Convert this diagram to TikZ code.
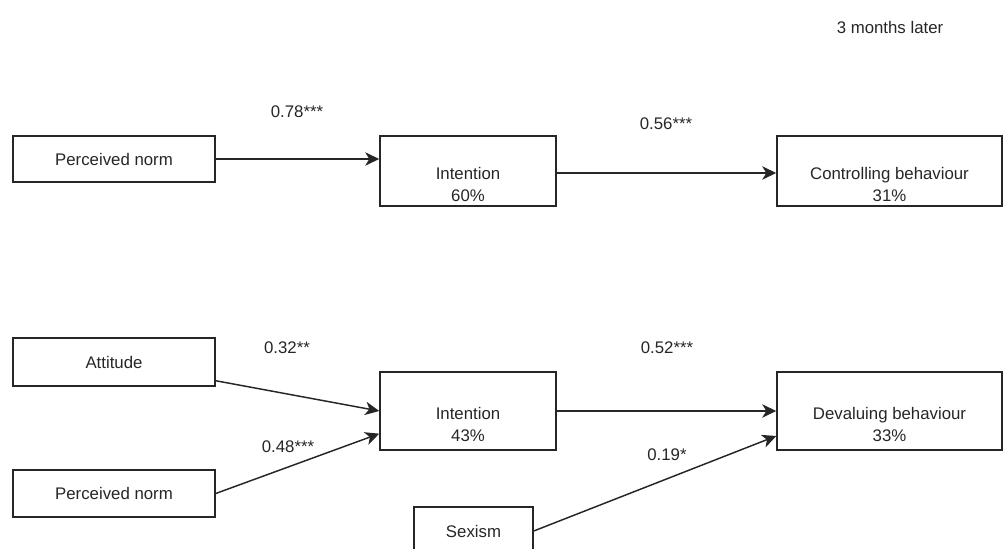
\documentclass[tikz,border=0pt]{standalone}
\usepackage{fontspec}
\setmainfont{Liberation Sans}
\usetikzlibrary{arrows.meta}
\tikzset{
  box/.style={draw=black!85, line width=1.1pt, rectangle, inner sep=0pt, font=\fontsize{12.6pt}{16.5pt}\selectfont, text=black!85},
  lbl/.style={font=\fontsize{12.6pt}{16.5pt}\selectfont, text=black!85, align=center, inner sep=0pt},
  twoline/.style={label={[lbl, yshift=-9.75pt]center:#1}},
  conn/.style={draw=black!85, line width=1.1pt, -{Stealth[length=10.5pt,width=10pt,inset=3pt]}}
}
\begin{document}
\begin{tikzpicture}[x=0.75pt, y=-0.75pt]
\useasboundingbox (0,0) rectangle (1003,549);
\clip (0,0) rectangle (1003,549);
% top row
\node[lbl] (later) at (890,27) {3 months later};
\node[box, minimum width=151.5pt, minimum height=34.5pt] (pn1) at (114,159) {Perceived norm};
\node[box, minimum width=132pt, minimum height=52.5pt, twoline={Intention\\60\%}] (int1) at (468,171) {};
\node[box, minimum width=168.75pt, minimum height=52.5pt, twoline={Controlling behaviour\\31\%}] (ctrl) at (889.5,171) {};
\node[lbl] (l78) at (297,112) {0.78***};
\node[lbl] (l56) at (666,124) {0.56***};
\draw[conn] (pn1.east) -- (pn1.east -| int1.west);
\draw[conn] ([yshift=-1.5pt]int1.east) -- ([yshift=-1.5pt]int1.east -| ctrl.west);
% bottom row
\node[box, minimum width=151.5pt, minimum height=36pt] (att) at (114,362) {Attitude};
\node[box, minimum width=151.5pt, minimum height=35.25pt] (pn2) at (114,493.5) {Perceived norm};
\node[box, minimum width=132pt, minimum height=58.5pt, twoline={Intention\\43\%}] (int2) at (468,411) {};
\node[box, minimum width=168.75pt, minimum height=58.5pt, twoline={Devaluing behaviour\\33\%}] (dev) at (889.5,411) {};
\node[box, minimum width=89.25pt, minimum height=36pt] (sex) at (473.5,531) {Sexism};
\node[lbl] (l32) at (287,348) {0.32**};
\node[lbl] (l48) at (288,447) {0.48***};
\node[lbl] (l52) at (667,348) {0.52***};
\node[lbl] (l19) at (667,455) {0.19*};
\draw[conn] ([yshift=4.5pt]att.south east) -- (int2.west);
\draw[conn] (pn2.east) -- ([yshift=-17pt]int2.west);
\draw[conn] (int2.east) -- (dev.west);
\draw[conn] (sex.east) -- ([yshift=-18.75pt]dev.west);
\end{tikzpicture}
\end{document}
